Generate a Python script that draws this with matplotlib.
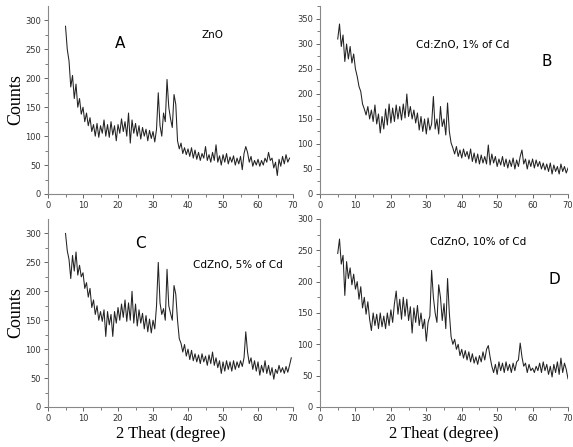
import numpy as np
import matplotlib.pyplot as plt

# XRD counts, 2-theta step of 0.5 degree from 5
counts_a = [290, 250, 230, 185, 205, 165, 190, 150, 165, 138,
            150, 125, 140, 118, 132, 108, 120, 100, 122, 98,
            118, 105, 128, 100, 120, 98, 125, 102, 118, 92,
            120, 105, 130, 108, 125, 100, 140, 88, 128, 105,
            122, 100, 118, 95, 115, 100, 112, 92, 110, 96,
            108, 90, 112, 175, 118, 100, 140, 125, 198, 150,
            130, 115, 172, 155, 92, 78, 88, 70, 80, 68,
            78, 65, 80, 62, 76, 60, 72, 58, 70, 62,
            82, 58, 68, 55, 72, 58, 85, 55, 66, 50,
            68, 55, 70, 52, 64, 55, 66, 50, 62, 52,
            65, 42, 70, 82, 72, 55, 65, 48, 58, 50,
            60, 48, 58, 50, 62, 55, 72, 58, 62, 45,
            55, 32, 60, 48, 65, 52, 68, 55, 62]

counts_b = [310, 340, 295, 318, 265, 300, 270, 295, 262, 280,
            250, 235, 215, 205, 180, 170, 158, 175, 150, 168,
            145, 178, 140, 160, 122, 155, 130, 170, 138, 180,
            142, 172, 145, 178, 150, 175, 148, 180, 152, 200,
            155, 175, 150, 168, 142, 162, 128, 155, 125, 150,
            120, 152, 128, 140, 195, 130, 150, 120, 175, 135,
            150, 118, 182, 125, 102, 92, 80, 95, 75, 88,
            72, 90, 75, 85, 70, 90, 65, 82, 62, 80,
            60, 78, 62, 75, 60, 98, 58, 80, 62, 75,
            55, 70, 58, 75, 55, 70, 52, 68, 55, 72,
            50, 68, 55, 75, 88, 60, 70, 50, 68, 55,
            70, 52, 68, 55, 65, 50, 62, 48, 60, 45,
            62, 40, 58, 45, 55, 40, 60, 45, 55, 42, 52]

counts_c = [300, 270, 255, 222, 262, 235, 268, 228, 245, 225,
            232, 205, 215, 190, 205, 172, 185, 160, 175, 150,
            165, 148, 168, 122, 165, 142, 160, 122, 165, 145,
            172, 150, 178, 155, 185, 148, 180, 150, 200, 145,
            178, 140, 168, 145, 162, 135, 158, 130, 152, 128,
            150, 135, 175, 250, 180, 160, 170, 150, 238, 175,
            162, 150, 210, 195, 150, 118, 110, 95, 108, 88,
            100, 82, 98, 80, 92, 78, 90, 75, 92, 78,
            88, 72, 90, 75, 95, 72, 85, 68, 80, 58,
            78, 62, 80, 65, 78, 62, 80, 65, 78, 68,
            80, 70, 85, 130, 95, 75, 85, 65, 80, 62,
            78, 55, 72, 60, 80, 58, 72, 55, 68, 48,
            65, 58, 72, 60, 68, 58, 70, 60, 72, 85]

counts_d = [245, 268, 228, 242, 178, 232, 205, 222, 195, 212,
            188, 200, 172, 192, 158, 175, 148, 168, 140, 122,
            150, 130, 148, 125, 150, 128, 145, 125, 150, 130,
            155, 135, 165, 185, 148, 172, 140, 175, 145, 172,
            138, 160, 118, 158, 135, 162, 130, 150, 125, 140,
            105, 135, 145, 218, 175, 150, 135, 195, 175, 138,
            165, 125, 205, 150, 112, 100, 108, 92, 100, 82,
            92, 78, 90, 75, 88, 72, 85, 70, 80, 68,
            82, 72, 88, 75, 92, 98, 80, 65, 55, 68,
            52, 72, 58, 70, 55, 72, 58, 68, 55, 70,
            58, 72, 75, 102, 80, 65, 70, 55, 68, 58,
            62, 55, 65, 58, 70, 55, 72, 58, 68, 52,
            65, 48, 68, 55, 72, 52, 78, 55, 70, 60, 45]

panels = [
    (counts_a, 325, [0.0838, 0.566], "A", (120, 43), "ZnO", (212, 35)),
    (counts_b, 376, [0.5585, 0.566], "B", (547, 62), "Cd:ZnO, 1% of Cd", (463, 45)),
    (counts_c, 325, [0.0838, 0.0895], "C", (140, 244), "CdZnO, 5% of Cd", (238, 265)),
    (counts_d, 300, [0.5585, 0.0895], "D", (554, 280), "CdZnO, 10% of Cd", (478, 242)),
]

W, H = 573, 447
fig = plt.figure(figsize=(W / 100, H / 100), dpi=100)

for i, (counts, ytop, (left, bottom), letter, lpos, label, tpos) in enumerate(panels):
    width = 0.4276 if left < 0.5 else 0.4328
    ax = fig.add_axes([left, bottom, width, 0.4206])
    x = 5 + 0.5 * np.arange(len(counts))
    ax.plot(x, counts, color="#222222", lw=0.75)
    ax.set_xlim(0, 70)
    ax.set_ylim(0, ytop)
    ax.set_xticks(range(0, 71, 10))
    ax.set_xticks(range(5, 70, 10), minor=True)
    ax.set_yticks(range(0, int(ytop) + 1, 50))
    ax.set_yticks(range(25, int(ytop), 50), minor=True)
    for s in ("top", "right"):
        ax.spines[s].set_visible(False)
    for s in ("left", "bottom"):
        ax.spines[s].set_color("#888888")
        ax.spines[s].set_linewidth(0.8)
    ax.tick_params(which="major", length=3, width=0.7, color="#666666",
                   labelsize=6, labelcolor="#333333", pad=2)
    ax.tick_params(which="minor", length=2, width=0.6, color="#666666")
    if left < 0.5:
        ax.set_ylabel("Counts", family="Liberation Serif", fontsize=13, labelpad=0.5)
    if bottom < 0.5:
        ax.set_xlabel("2 Theat (degree)", family="Liberation Serif", fontsize=12, labelpad=2.5)
    fig.text(lpos[0] / W, 1 - lpos[1] / H, letter, fontsize=11,
             ha="center", va="center")
    fig.text(tpos[0] / W, 1 - tpos[1] / H, label, fontsize=7.5,
             ha="center", va="center")

fig.savefig("out.png", dpi=100)
